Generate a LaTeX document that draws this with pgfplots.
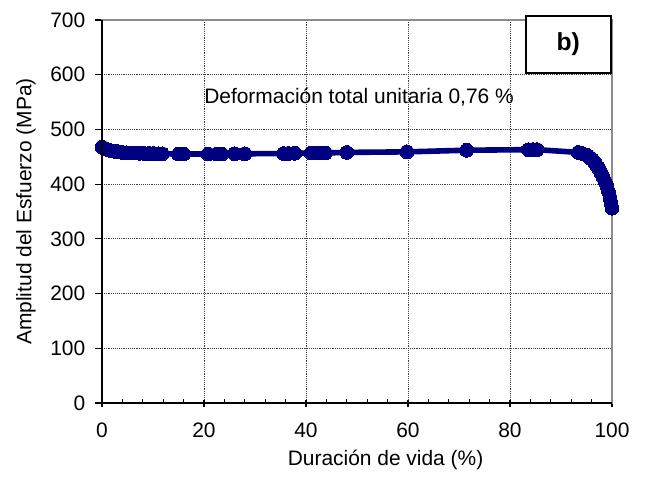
\documentclass[border=0pt]{standalone}
\usepackage{pgfplots}
\pgfplotsset{compat=1.18}
\usepackage{fontspec}
\setmainfont{Liberation Sans}
\definecolor{navyline}{RGB}{0,0,128}
\newcommand{\fs}{\fontsize{15.7}{18.8}\selectfont}
\begin{document}
\begin{tikzpicture}
\begin{axis}[
  scale only axis, width=382.5pt, height=287.25pt,
  xmin=0, xmax=100, ymin=0, ymax=700,
  xtick={0,20,...,100}, ytick={0,100,...,700},
  minor x tick num=4,
  xtick pos=left, ytick pos=left,
  tick align=outside,
  major tick length=5.25pt, minor tick length=3pt,
  minor x tick style={yshift=3pt},
  major x tick style={yshift=2.25pt},
  tick style={black, line width=0.8pt},
  grid=major,
  major grid style={densely dotted, black!75, line width=0.6pt},
  axis line style={draw=black!45, line width=1.5pt},
  ticklabel style={font=\fs},
  yticklabel style={xshift=-3.75pt},
  xticklabel style={yshift=-6pt},
  /pgf/number format/assume math mode=true,
  xlabel={Duración de vida (\%)},
  ylabel={Amplitud del Esfuerzo (MPa)},
  xlabel style={at={(rel axis cs:0.556,-0.1488)}, anchor=center, font=\fs},
  ylabel style={at={(rel axis cs:-0.1490,0.5)}, anchor=center, font=\fs},
  clip=false,
]
\addplot[color=navyline, line width=4.2pt, line join=round, mark=*, mark size=5.2pt,
  mark options={solid, fill=navyline, draw=navyline, line width=0pt}] coordinates {
(0,468) (0.6,465) (1.2,463) (1.8,461) (2.5,460) (3.2,459) (4,458) (4.8,457.5)
(5.6,457) (6.5,457) (7.4,456.5) (8.3,456) (9.2,456) (10.1,456) (11,455.5) (11.8,455.5)
(15,455) (16,455) (20.8,455) (22.5,455) (23.5,455) (26,455.5) (28,455.5)
(35.6,456) (36.5,456) (37.8,456.5) (41,457) (42,457) (43,457) (43.8,457) (48,458)
(59.8,459) (71.5,462) (83.6,463) (84.5,463) (85.3,463) (93.4,458)
(94.2,456) (95,453) (95.6,449) (96.1,445) (96.6,440) (97,434) (97.5,427) (97.9,420)
(98.3,412) (98.7,404) (99,396) (99.3,387) (99.6,375) (99.8,366) (100,356)
};
\node[font=\fs] at (axis cs:50.4,559) {Deformación total unitaria 0,76 \%};
\coordinate (bl) at (rel axis cs:0,0);
\coordinate (br) at (rel axis cs:1,0);
\coordinate (tl) at (rel axis cs:0,1);
\coordinate (tr) at (rel axis cs:1,1);
\coordinate (bpos) at (axis cs:91.4,656);
\end{axis}
\draw[black, line width=1.2pt] (tl) -- (bl) -- (br);
\node[draw=black, line width=1.5pt, fill=white, minimum width=63.75pt, minimum height=42.75pt,
  font=\fontsize{18.5}{22}\selectfont\bfseries] at (bpos) {b)};
\path[use as bounding box] ([shift={(-76.5pt,-59.25pt)}]bl) rectangle ([shift={(25.5pt,15pt)}]tr);
\end{tikzpicture}
\end{document}
